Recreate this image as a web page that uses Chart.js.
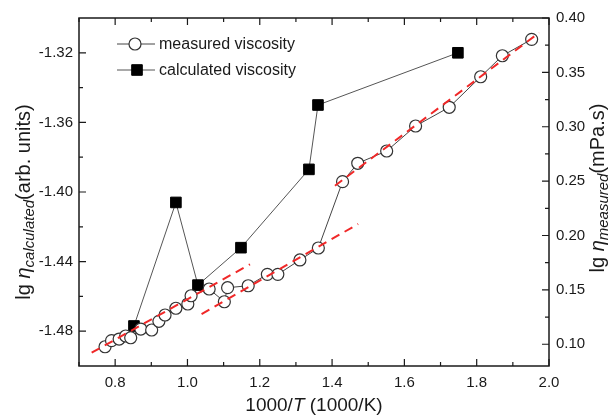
<!DOCTYPE html>
<html>
<head>
<meta charset="utf-8">
<title>Viscosity vs 1000/T</title>
<script src="https://cdn.jsdelivr.net/npm/chart.js@4"></script>
<style>
  html, body { margin:0; padding:0; background:#fff; }
</style>
</head>
<body>
<canvas id="visc" width="608" height="416"></canvas>
<script>
// measured viscosity, right axis (lg eta measured, mPa.s)
const measuredX = [0.772, 0.790, 0.811, 0.829, 0.843, 0.871, 0.901, 0.921, 0.938, 0.968,
                   1.001, 1.010, 1.060, 1.102, 1.111, 1.168, 1.221, 1.250, 1.311, 1.362,
                   1.429, 1.471, 1.551, 1.631, 1.724, 1.811, 1.871, 1.952];
const measuredY = [0.0977, 0.1033, 0.1048, 0.1076, 0.1060, 0.1140, 0.1131, 0.1211, 0.1269, 0.1331,
                   0.1370, 0.1446, 0.1508, 0.1391, 0.1520, 0.1538, 0.1643, 0.1643, 0.1775, 0.1885,
                   0.2495, 0.2664, 0.2777, 0.3007, 0.3179, 0.3460, 0.3653, 0.3804];

// calculated viscosity, left axis (arb. units)
const calcX = [0.852, 0.968, 1.029, 1.148, 1.336, 1.361, 1.748];
const calcY = [-1.477, -1.406, -1.4535, -1.432, -1.387, -1.350, -1.320];

// red dashed fits (right axis)
const fitAX = [0.735, 1.173];
const fitAY = [0.0922, 0.1735];
const fitBX = [1.039, 1.472];
const fitBY = [0.1278, 0.2106];
const fitCX = [1.408, 1.973];
const fitCY = [0.2458, 0.3865];

// ticks
const xTicks = [0.8, 1.0, 1.2, 1.4, 1.6, 1.8, 2.0];
const xMinor = [0.7, 0.9, 1.1, 1.3, 1.5, 1.7, 1.9];
const leftTicks = [-1.48, -1.44, -1.40, -1.36, -1.32];
const leftMinor = [-1.46, -1.42, -1.38, -1.34];
const rightTicks = [0.10, 0.15, 0.20, 0.25, 0.30, 0.35, 0.40];
const rightMinor = [0.125, 0.175, 0.225, 0.275, 0.325, 0.375];

const FONT = "'Liberation Sans', Arial, sans-serif";
const INK = '#1a1a1a';

function pts(xs, ys) { return xs.map((x, i) => ({x: x, y: ys[i]})); }

function fitSet(xs, ys) {
  return {
    data: pts(xs, ys), yAxisID: 'yR', showLine: true,
    borderColor: '#f02828', borderWidth: 2, borderDash: [9, 6],
    pointRadius: 0, order: 0
  };
}

// inward ticks, frame, axis titles and legend
const decor = {
  id: 'decor',
  beforeDatasetsDraw(chart) {
    const ctx = chart.ctx, a = chart.chartArea;
    const sx = chart.scales.x, sl = chart.scales.yL, sr = chart.scales.yR;
    ctx.save();
    ctx.strokeStyle = INK;
    ctx.lineWidth = 1.5;
    ctx.strokeRect(a.left, a.top, a.right - a.left, a.bottom - a.top);
    ctx.lineWidth = 1.2;
    ctx.beginPath();
    const tick = (len, list, fn) => list.forEach(v => fn(v, len));
    const xt = (v, len) => {
      const p = sx.getPixelForValue(v);
      ctx.moveTo(p, a.bottom); ctx.lineTo(p, a.bottom - len);
      ctx.moveTo(p, a.top); ctx.lineTo(p, a.top + len);
    };
    tick(7, xTicks, xt); tick(4, xMinor, xt);
    const lt = (v, len) => {
      const p = sl.getPixelForValue(v);
      ctx.moveTo(a.left, p); ctx.lineTo(a.left + len, p);
    };
    tick(7, leftTicks, lt); tick(4, leftMinor, lt);
    const rt = (v, len) => {
      const p = sr.getPixelForValue(v);
      ctx.moveTo(a.right, p); ctx.lineTo(a.right - len, p);
    };
    tick(7, rightTicks, rt); tick(4, rightMinor, rt);
    ctx.stroke();
    ctx.restore();
  },
  afterDraw(chart) {
    const ctx = chart.ctx, a = chart.chartArea;
    ctx.save();
    ctx.fillStyle = INK;
    ctx.textBaseline = 'alphabetic';

    // draw a run of styled pieces starting at x0 on the current baseline
    const runWidth = parts => parts.reduce((w, p) => { ctx.font = p.f; return w + ctx.measureText(p.t).width; }, 0);
    const drawRun = (parts, x0) => {
      let x = x0;
      parts.forEach(p => { ctx.font = p.f; ctx.fillText(p.t, x, p.dy || 0); x += ctx.measureText(p.t).width; });
    };

    // x title
    const xt = [
      {t: '1000/', f: '19px ' + FONT},
      {t: 'T', f: 'italic 19px ' + FONT},
      {t: ' (1000/K)', f: '19px ' + FONT}
    ];
    ctx.save();
    ctx.translate((a.left + a.right) / 2, 411);
    drawRun(xt, -runWidth(xt) / 2);
    ctx.restore();

    // left title
    const lt = [
      {t: 'lg ', f: '20px ' + FONT},
      {t: '\u03b7', f: 'italic 20px ' + FONT},
      {t: 'calculated', f: 'italic 15px ' + FONT, dy: 4},
      {t: '(arb. units)', f: '20px ' + FONT}
    ];
    ctx.save();
    ctx.translate(30, 202);
    ctx.rotate(-Math.PI / 2);
    drawRun(lt, -runWidth(lt) / 2);
    ctx.restore();

    // right title
    const rtl = [
      {t: 'lg ', f: '20px ' + FONT},
      {t: '\u03b7', f: 'italic 20px ' + FONT},
      {t: 'measured', f: 'italic 15px ' + FONT, dy: 4},
      {t: '(mPa.s)', f: '20px ' + FONT}
    ];
    ctx.save();
    ctx.translate(604, 188);
    ctx.rotate(-Math.PI / 2);
    drawRun(rtl, -runWidth(rtl) / 2);
    ctx.restore();

    // legend
    const rows = [
      {label: 'measured viscosity', ds: chart.data.datasets[0], y: 44},
      {label: 'calculated viscosity', ds: chart.data.datasets[1], y: 70}
    ];
    rows.forEach(r => {
      ctx.strokeStyle = r.ds.borderColor;
      ctx.lineWidth = 1;
      ctx.beginPath();
      ctx.moveTo(117, r.y); ctx.lineTo(155, r.y);
      ctx.stroke();
      ctx.fillStyle = r.ds.pointBackgroundColor;
      ctx.strokeStyle = r.ds.pointBorderColor;
      ctx.lineWidth = r.ds.pointBorderWidth;
      ctx.beginPath();
      if (r.ds.pointStyle === 'circle') {
        ctx.arc(135, r.y, r.ds.pointRadius, 0, Math.PI * 2);
      } else {
        const h = r.ds.pointRadius * Math.SQRT1_2;
        ctx.rect(137 - h, r.y - h, 2 * h, 2 * h);
      }
      ctx.fill(); ctx.stroke();
      ctx.fillStyle = INK;
      ctx.font = '16px ' + FONT;
      ctx.textBaseline = 'middle';
      ctx.fillText(r.label, 159, r.y + 1);
    });
    ctx.restore();
  }
};

new Chart(document.getElementById('visc').getContext('2d'), {
  type: 'scatter',
  data: {
    datasets: [
      {
        label: 'measured viscosity', data: pts(measuredX, measuredY), yAxisID: 'yR',
        showLine: true, borderColor: '#444', borderWidth: 1,
        pointStyle: 'circle', pointRadius: 6, pointBorderWidth: 1.2,
        pointBackgroundColor: '#fff', pointBorderColor: '#333', order: 1
      },
      {
        label: 'calculated viscosity', data: pts(calcX, calcY), yAxisID: 'yL',
        showLine: true, borderColor: '#555', borderWidth: 1,
        pointStyle: 'rect', pointRadius: 7.5, pointBorderWidth: 1,
        pointBackgroundColor: '#000', pointBorderColor: '#000', order: 2
      },
      fitSet(fitAX, fitAY),
      fitSet(fitBX, fitBY),
      fitSet(fitCX, fitCY)
    ]
  },
  options: {
    responsive: false,
    animation: false,
    layout: { padding: { top: 18, left: 0, right: 0, bottom: 0 } },
    plugins: { legend: { display: false }, tooltip: { enabled: false } },
    scales: {
      x: {
        type: 'linear', position: 'bottom', min: 0.7, max: 2.0,
        afterBuildTicks: s => { s.ticks = xTicks.map(v => ({value: v})); },
        afterFit: s => { s.height = 50; },
        grid: { display: false, drawTicks: false }, border: { display: false },
        ticks: { padding: 8, color: INK, font: { family: FONT, size: 15 }, callback: v => v.toFixed(1) }
      },
      yL: {
        type: 'linear', position: 'left', min: -1.5, max: -1.3,
        afterBuildTicks: s => { s.ticks = leftTicks.map(v => ({value: v})); },
        afterFit: s => { s.width = 79; },
        grid: { display: false, drawTicks: false }, border: { display: false },
        ticks: { padding: 6, color: INK, font: { family: FONT, size: 15 }, callback: v => v.toFixed(2) }
      },
      yR: {
        type: 'linear', position: 'right', min: 0.08, max: 0.40,
        afterBuildTicks: s => { s.ticks = rightTicks.map(v => ({value: v})); },
        afterFit: s => { s.width = 59; },
        grid: { display: false, drawTicks: false }, border: { display: false },
        ticks: { padding: 7, color: INK, font: { family: FONT, size: 15 }, callback: v => v.toFixed(2) }
      }
    }
  },
  plugins: [decor]
});
</script>
</body>
</html>
